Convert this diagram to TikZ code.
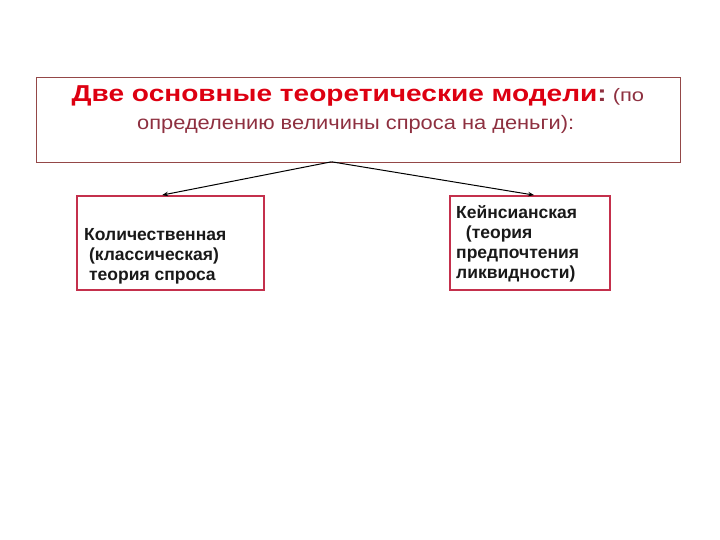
\documentclass[tikz,border=0pt]{standalone}
\usepackage{fontspec}
\setmainfont{Liberation Sans}
\usetikzlibrary{arrows.meta}
\definecolor{titlered}{HTML}{DD0011}
\definecolor{subred}{HTML}{8E3040}
\definecolor{topframe}{HTML}{944848}
\definecolor{boxframe}{HTML}{C4304C}
\tikzset{
  topbox/.style={draw=topframe, line width=1pt, inner sep=0pt},
  modelbox/.style={draw=boxframe, line width=1.8pt, inner sep=0pt},
  boxtext/.style={font=\fontsize{17.5}{20}\selectfont\bfseries, align=left, anchor=base west, inner sep=0pt, text=black!90},
  conn/.style={-{Stealth[length=6pt,width=4.5pt]}, line width=1pt, black}
}
\begin{document}
\begin{tikzpicture}[x=1pt,y=-1pt]
\useasboundingbox (0,0) rectangle (720,540);
\node[topbox, minimum width=644pt, minimum height=84.5pt] (top) at (358,120) {};
\node[anchor=base west, inner sep=0pt] (title) at (71.5,101.5)
  {\scalebox{1.22}[1]{\fontsize{23}{26}\selectfont\bfseries\color{titlered}Две основные теоретические модели\color{subred}:\mdseries\fontsize{18}{22}\selectfont\ (по}};
\node[anchor=base west, inner sep=0pt, text=subred] (sub) at (137,130)
  {\scalebox{1.12}[1]{\fontsize{19.5}{22}\selectfont определению величины спроса на деньги):}};
\node[modelbox, minimum width=187pt, minimum height=94pt] (left) at (170.5,243) {};
\node[modelbox, minimum width=160pt, minimum height=94pt] (right) at (530,243) {};
\node[boxtext] (ltext) at (84,280) {Количественная\\\ (классическая)\\\ теория спроса};
\node[boxtext] (rtext) at (456,278) {Кейнсианская\\\ \ (теория\\предпочтения\\ликвидности)};
\coordinate (split) at (331.5,161.8);
\draw[conn] (split) -- ([xshift=86pt]left.north west);
\draw[conn] (split) -- ([xshift=85pt]right.north west);
\end{tikzpicture}
\end{document}
